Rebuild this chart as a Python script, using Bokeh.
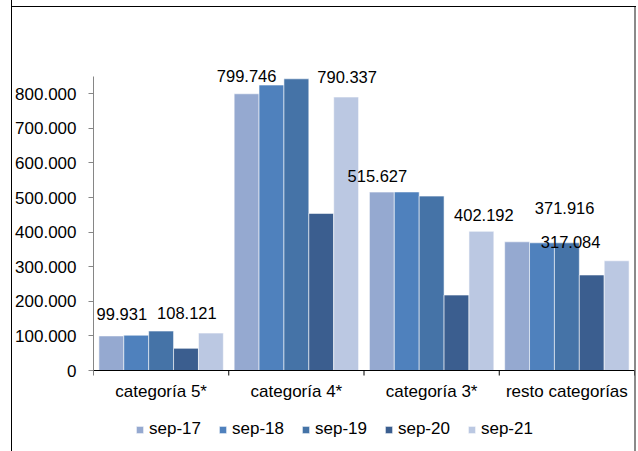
from bokeh.plotting import figure
from bokeh.models import (ColumnDataSource, FixedTicker, Legend, LegendItem,
                          Range1d, Span)
from bokeh.embed import file_html
from bokeh.resources import INLINE
from bokeh.core.properties import value

# ---- data ----
categories = ["categoría 5*", "categoría 4*", "categoría 3*", "resto categorías"]
series = ["sep-17", "sep-18", "sep-19", "sep-20", "sep-21"]
sep_17 = [99931, 799746, 515627, 371916]
sep_18 = [102000, 825000, 516000, 369000]
sep_19 = [114000, 843000, 504000, 369000]
sep_20 = [64000, 454000, 218000, 276000]
sep_21 = [108121, 790337, 402192, 317084]
y_ticks = [0, 100000, 200000, 300000, 400000, 500000, 600000, 700000, 800000]
y_tick_labels = ["0", "100.000", "200.000", "300.000", "400.000",
                 "500.000", "600.000", "700.000", "800.000"]
labelled_series = ["sep-17", "sep-21"]

# ---- styles ----
colors = ["#95A9D0", "#4F81BD", "#4573A7", "#3B5E8F", "#BBC8E2"]
FONT = "Liberation Sans"
bar_w = 0.184
# manual label placement offsets (px) as in the original chart
label_dx = {"sep-17": [10.5, 0, -4.5, 47.5], "sep-21": [-24, 1, 2.5, -46]}
label_dy = {"sep-17": [22, 18, 15.6, 33.7], "sep-21": [19.7, 19.7, 16.3, 19]}

values = {"sep-17": sep_17, "sep-18": sep_18, "sep-19": sep_19,
          "sep-20": sep_20, "sep-21": sep_21}


def fmt(v):
    return f"{v:,}".replace(",", ".")


# frame geometry (px): value axis 0 at 346px below frame top, 81px above bottom
Y_TOP = 1000000
PX_ABOVE = 346
PX_BELOW = 81
unit_per_px = Y_TOP / PX_ABOVE
y_bottom = -PX_BELOW * unit_per_px

p = figure(width=636, height=451, output_backend="svg", toolbar_location=None,
           x_range=Range1d(0, 4), y_range=Range1d(y_bottom, Y_TOP),
           min_border_left=93, min_border_right=2, min_border_top=24,
           min_border_bottom=0)
p.border_fill_color = None
p.background_fill_color = None
p.outline_line_color = None
p.xgrid.visible = False
p.ygrid.visible = False
p.xaxis.visible = False
p.styles = {"box-shadow": "inset 11px 0 0 #fff, inset 12px 0 0 #000, "
                          "inset 0 6px 0 #fff, inset 0 7px 0 #000, "
                          "inset -2px 0 0 #8a8a8a"}

items = []
label_jobs = []
for j, s in enumerate(series):
    xs = [i + 0.5 + (j - 2) * bar_w for i in range(len(categories))]
    src = ColumnDataSource(dict(x=xs, top=values[s]))
    r = p.vbar(x="x", top="top", bottom=0, width=bar_w, source=src,
               fill_color=colors[j], line_color="#FFFFFF", line_alpha=0.7,
               line_width=0.8)
    items.append(LegendItem(label=s, renderers=[r]))
    if s in labelled_series:
        label_jobs.append((s, xs))

for s, xs in label_jobs:
    lsrc = ColumnDataSource(dict(
        x=xs, y=values[s], text=[fmt(v) for v in values[s]],
        dx=label_dx[s], dy=[-d for d in label_dy[s]]))
    p.text(x="x", y="y", text="text", source=lsrc, x_offset="dx",
           y_offset="dy", text_align="center", text_baseline="alphabetic",
           text_font=value(FONT), text_font_size="16.5px",
           text_color="#000000")

# category axis (drawn at value 0)
p.add_layout(Span(location=0, dimension="width", line_color="#000000",
                  line_width=1))
bounds = list(range(len(categories) + 1))
tick_len = 5 * unit_per_px
p.segment(x0=bounds, y0=[0] * len(bounds), x1=bounds,
          y1=[-tick_len] * len(bounds), line_color="#000000", line_width=1)
centers = [i + 0.5 for i in range(len(categories))]
p.text(x=centers, y=[0] * len(centers), text=categories, y_offset=21,
       text_align="center", text_baseline="alphabetic",
       text_font=value(FONT), text_font_size="17px", text_color="#000000")

# y axis
ya = p.yaxis[0]
ya.ticker = FixedTicker(ticks=y_ticks)
ya.major_label_overrides = {t: l for t, l in zip(y_ticks, y_tick_labels)}
ya.bounds = (0, 850000)
ya.axis_line_color = "#868686"
ya.major_tick_line_color = "#868686"
ya.major_tick_out = 5
ya.major_tick_in = 0
ya.minor_tick_line_color = None
ya.major_label_standoff = 12
ya.major_label_text_font = FONT
ya.major_label_text_font_size = "17px"
ya.major_label_text_color = "#000000"

legend = Legend(items=items, orientation="horizontal", location=(42, 12),
                glyph_width=9, glyph_height=9, label_standoff=5, spacing=17,
                label_height=17, padding=0, margin=0,
                border_line_color=None, background_fill_color=None,
                label_text_font=FONT, label_text_font_size="17px",
                label_text_color="#000000")
p.add_layout(legend, "center")

open("out.html", "w").write(file_html(p, INLINE))
